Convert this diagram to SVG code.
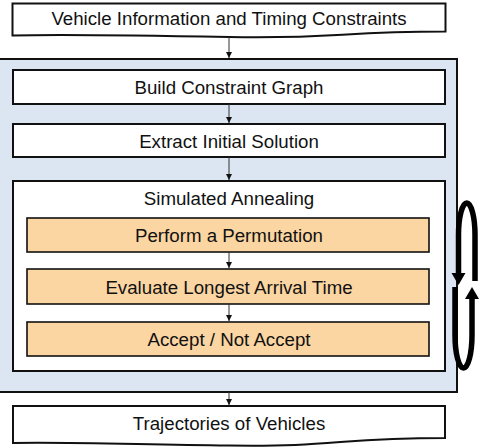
<svg xmlns="http://www.w3.org/2000/svg" width="480" height="447" viewBox="0 0 480 447">
<style>
.t{font-family:"Liberation Sans",Arial,sans-serif;font-size:18.7px;fill:#111;text-anchor:middle}
.box{fill:#fff;stroke:#111;stroke-width:2}
.or{fill:#fbd5a2;stroke:#111;stroke-width:1.6}
.c{stroke:#333;stroke-width:1;fill:none}
.loop{stroke:#000;stroke-width:5.5;fill:none}
</style>
<defs>
<marker id="a" viewBox="0 0 6 6" refX="6" refY="3" markerWidth="6" markerHeight="6" markerUnits="userSpaceOnUse" orient="auto">
<path d="M0,0 L6,3 L0,6 Z" fill="#111"/>
</marker>
</defs>
<g id="container">
<rect x="-2" y="59" width="459" height="333" fill="#dce6f2" stroke="#111" stroke-width="2"/>
</g>
<g id="input">
<path class="box" d="M12.5,3.5 H445.5 V31.5 C337,31.5 337,39 229,37 C121,35 66,34 12.5,35.5 Z"/>
<text class="t" x="229" y="24.5">Vehicle Information and Timing Constraints</text>
</g>
<g id="build">
<rect class="box" x="13" y="70" width="432" height="34"/>
<text class="t" x="229" y="94">Build Constraint Graph</text>
</g>
<g id="extract">
<rect class="box" x="13" y="124" width="432" height="33"/>
<text class="t" x="229" y="147.5">Extract Initial Solution</text>
</g>
<g id="sa">
<rect class="box" x="13" y="181" width="432" height="190"/>
<text class="t" x="229" y="205">Simulated Annealing</text>
</g>
<g id="perm">
<rect class="or" x="27" y="218" width="402" height="34"/>
<text class="t" x="229" y="242">Perform a Permutation</text>
</g>
<g id="eval">
<rect class="or" x="27" y="269" width="402" height="35"/>
<text class="t" x="229" y="293.5">Evaluate Longest Arrival Time</text>
</g>
<g id="accept">
<rect class="or" x="27" y="322" width="402" height="34"/>
<text class="t" x="229" y="346">Accept / Not Accept</text>
</g>
<g id="output">
<path class="box" d="M13,406 H445 V438 C337,438 337,447 229,445.5 C121,444 66,442 13,443 Z"/>
<text class="t" x="229" y="430">Trajectories of Vehicles</text>
</g>
<g id="connectors">
<line class="c" x1="229" y1="37" x2="229" y2="58" marker-end="url(#a)"/>
<line class="c" x1="229" y1="104" x2="229" y2="123" marker-end="url(#a)"/>
<line class="c" x1="229" y1="157" x2="229" y2="180" marker-end="url(#a)"/>
<line class="c" x1="229" y1="252" x2="229" y2="268" marker-end="url(#a)"/>
<line class="c" x1="229" y1="304" x2="229" y2="321" marker-end="url(#a)"/>
<line class="c" x1="229" y1="392" x2="229" y2="405" marker-end="url(#a)"/>
<path class="loop" d="M458.5,274 V235 A8.25,32 0 0 1 475,235 V281"/>
<polygon points="451.5,273 465.5,273 458.5,285" fill="#000"/>
<path class="loop" d="M455,287 V335 A8.5,33 0 0 0 472,335 V298"/>
<polygon points="465,299 479,299 472,287" fill="#000"/>
</g>
</svg>
